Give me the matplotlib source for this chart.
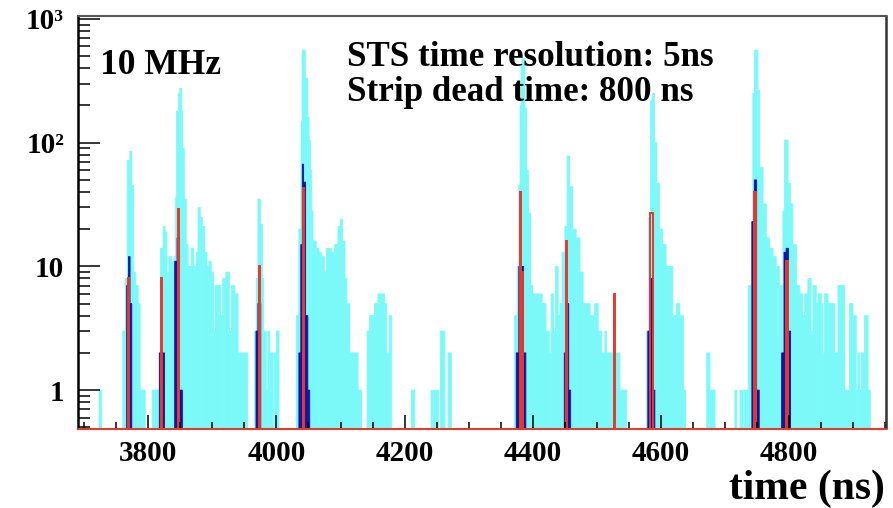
import matplotlib
matplotlib.use("Agg")
import matplotlib.pyplot as plt
import numpy as np
from matplotlib.ticker import MultipleLocator, LogLocator, NullFormatter

plt.rcParams['font.family'] = ['Liberation Serif', 'DejaVu Serif']
plt.rcParams['font.weight'] = 'bold'

x_min, x_max = 3690, 4952
y_min, y_max = 0.49, 1060

# all hits (cyan), step histogram: left edge of each step (ns) and count
cyan_start = [3690, 3723, 3727,
              3760, 3764, 3767, 3771, 3774, 3777, 3780, 3784, 3787, 3790, 3791, 3795,
              3806, 3809, 3810, 3817, 3819, 3823, 3826, 3829, 3832, 3836,
              3840, 3842.5, 3844, 3847, 3849, 3852, 3853.5, 3856, 3859, 3862, 3867, 3871,
              3875, 3877.5, 3881, 3884, 3888, 3891.5, 3894.5, 3898, 3902, 3904, 3913, 3916,
              3921, 3926.5, 3929.5, 3935, 3940, 3955,
              3966, 3968.5, 3971, 3975, 3978, 3980, 3984, 3986.5, 3989.5, 3995, 3997, 4000, 4004,
              4031, 4035, 4038.5, 4040, 4045, 4049, 4051, 4053, 4055, 4057, 4062, 4066.5,
              4070, 4075, 4078, 4086, 4091, 4096, 4100, 4103, 4107, 4110, 4114.5, 4127.5, 4133,
              4141.5, 4145.5, 4153, 4158.5, 4169, 4172, 4176, 4180,
              4210.5, 4216, 4241.5, 4244, 4245, 4248, 4249, 4253, 4256, 4263, 4268, 4273,
              4372, 4376, 4378.5, 4380.5, 4382, 4384.5, 4388, 4390.5, 4393.5, 4397, 4400,
              4415, 4421, 4426, 4429, 4433, 4436, 4440, 4443,
              4446, 4450.5, 4454, 4458, 4462.5, 4468, 4474, 4479, 4490, 4497, 4502.5, 4508,
              4513, 4515.5, 4536.5, 4547,
              4578, 4581.5, 4584.4, 4587, 4590.5, 4594, 4598, 4603, 4608.5, 4619, 4624.5,
              4630, 4635.5, 4639,
              4672, 4677, 4685, 4716, 4719, 4724, 4726, 4727, 4729, 4731, 4736,
              4737, 4742, 4744, 4746.5, 4752, 4754.5, 4760, 4765, 4770, 4775.5, 4780.5, 4786,
              4791, 4793.5, 4799, 4802.5, 4806.5, 4812, 4817, 4822, 4825, 4830, 4835, 4838,
              4843, 4846, 4851, 4853.5, 4856, 4861.5, 4872, 4877, 4887.5, 4895, 4900.5,
              4905.5, 4908, 4911, 4913.5, 4918.5, 4924, 4927.5]
cyan_counts = [0, 1, 0,
               3, 8, 72, 85, 45, 9, 7, 5, 1, 0, 1, 0,
               1, 0, 1, 2, 14, 21, 19, 9, 12, 11,
               12, 36, 180, 250, 275, 180, 90, 35, 15, 10, 14, 10,
               13, 30, 25, 21, 13, 10, 11, 9, 3, 7, 4, 8,
               9, 3, 7, 6, 2, 0,
               3, 8, 35, 22, 8, 3, 1, 3, 2, 0, 2, 3, 0,
               4, 20, 150, 560, 330, 160, 105, 60, 28, 16, 14, 13,
               12, 9, 14, 13, 15, 21, 24, 16, 8, 5, 2, 1, 0,
               3, 4, 5, 6, 5, 2, 4, 0,
               1, 0, 1, 0, 1, 0, 1, 0, 3, 0, 2, 0,
               4, 10, 45, 200, 420, 480, 190, 60, 27, 7, 6,
               5, 3, 2, 6, 3, 10, 4, 5,
               13, 21, 78, 44, 20, 17, 9, 5, 4, 5, 3, 2,
               3, 2, 1, 0,
               3, 25, 220, 250, 100, 47, 20, 15, 10, 4, 5,
               4, 1, 0,
               2, 1, 0, 1, 0, 1, 0, 1, 0, 1, 0,
               7, 23, 250, 560, 265, 63, 32, 17, 14, 12, 10, 7,
               28, 105, 47, 32, 15, 7, 6, 4, 6, 8, 3, 7,
               5, 6, 5, 2, 6, 5, 2, 7, 1, 5, 4,
               1, 2, 1, 2, 4, 1, 0]

# selected hits (dark blue)
blue_start = [3690,
              3766, 3768.7, 3771.3, 3774,
              3817, 3825,
              3841, 3844.7, 3848.7, 3853,
              3968, 3971, 3975.5,
              4035, 4038, 4040.3, 4042.4, 4045.5, 4049, 4052,
              4374.5, 4378.5, 4386, 4389.5,
              4449.5, 4451.5, 4456.5, 4459.5,
              4580, 4584, 4588.5, 4591,
              4742.5, 4746.3, 4750, 4754,
              4789, 4792.7, 4796, 4799.5, 4803]
blue_counts = [0,
               7, 12, 5, 0,
               2, 0,
               11, 17, 1, 0,
               3, 5, 0,
               2, 15, 67, 48, 4, 1, 0,
               2, 10, 2, 0,
               2, 5, 1, 0,
               3, 8, 1, 0,
               23, 50, 1, 0,
               2, 13, 14, 3, 0]

# reconstructed hits (red outline)
red_left = [3768.5, 3820, 3845.5, 3972, 4041, 4380, 4382.5, 4452, 4526.5, 4583.3, 4746.3, 4796]
red_right = [3770, 3821.5, 3847, 3973.5, 4042.5, 4382.5, 4385, 4453.5, 4528, 4587.5, 4749, 4799]
red_counts = [8, 8, 29, 10, 43, 40, 9, 16, 6, 27, 40, 11]


def draw_hist(ax, start, counts, color):
    edges = np.array(start + [x_max], dtype=float)
    counts = np.array(counts, dtype=float)
    keep = counts > 0
    bars = ax.bar(edges[:-1][keep], counts[keep], width=np.diff(edges)[keep], bottom=1e-3,
                  align='edge', color=color, edgecolor=color, lw=0.6)
    for b in bars:
        b.set_snap(False)


fig = plt.figure(figsize=(8.93, 5.08), dpi=100)
ax = fig.add_axes([78 / 893, 1 - 428.5 / 508, (886 - 78) / 893, (428.5 - 15.8) / 508])
ax.set_yscale('log')

draw_hist(ax, cyan_start, cyan_counts, '#7bf9f9')
draw_hist(ax, blue_start, blue_counts, '#1414a0')
for l, r, c in zip(red_left, red_right, red_counts):
    ax.stairs([c], [l, r], baseline=1e-3, color='#e53a2e', lw=1.4)

ax.set_xlim(x_min, x_max)
ax.set_ylim(y_min, y_max)

ax.xaxis.set_major_locator(MultipleLocator(200))
ax.xaxis.set_minor_locator(MultipleLocator(50))
ax.set_yticks([1, 10, 100, 1000])
ax.set_yticklabels(['1', '10', '10²', '10³'])
ax.yaxis.set_minor_locator(LogLocator(base=10, subs=range(2, 10)))
ax.yaxis.set_minor_formatter(NullFormatter())

ax.tick_params(axis='x', which='major', direction='in', length=10, width=1.1,
               labelsize=21, pad=8, top=False)
ax.tick_params(axis='x', which='minor', direction='in', length=5, width=1.1, top=False)
ax.tick_params(axis='y', which='major', direction='in', length=16, width=1.1,
               labelsize=21, pad=10, right=False)
ax.tick_params(axis='y', which='minor', direction='in', length=8.5, width=1.1, right=False)

ax.spines['left'].set_linewidth(1.8)
ax.spines['right'].set_linewidth(1.8)
ax.spines['right'].set_color('#333333')
ax.spines['top'].set_linewidth(1.5)
ax.spines['top'].set_color('#555555')
ax.spines['bottom'].set_linewidth(1.5)
ax.spines['bottom'].set_color('#e53a2e')

fig.text(100 / 893, 1 - 74 / 508, '10 MHz', fontsize=25.5, fontweight='bold', va='baseline')
fig.text(347 / 893, 1 - 66 / 508, 'STS time resolution: 5ns', fontsize=25.2,
         fontweight='bold', va='baseline')
fig.text(347 / 893, 1 - 101 / 508, 'Strip dead time: 800 ns', fontsize=25.2,
         fontweight='bold', va='baseline')
fig.text(885 / 893, 1 - 499 / 508, 'time (ns)', fontsize=30, fontweight='bold',
         ha='right', va='baseline')

fig.savefig('out.png', dpi=100)
